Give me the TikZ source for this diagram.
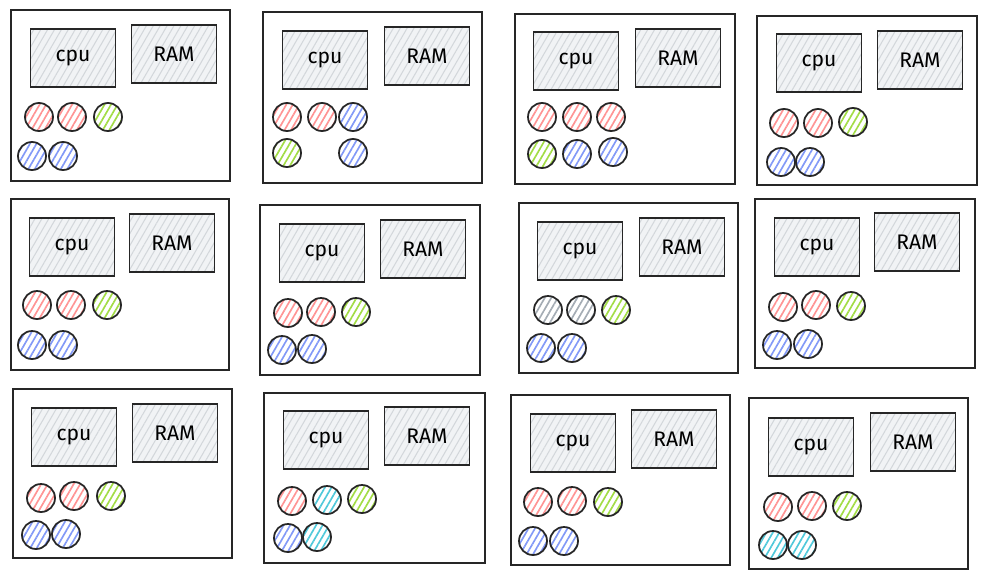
\documentclass[tikz,border=0pt]{standalone}
\usepackage{fontspec}
\setmainfont{Fira Sans}
\usetikzlibrary{patterns.meta}
\definecolor{redhach}{HTML}{FF9494}
\definecolor{bluehach}{HTML}{8299F7}
\definecolor{greenhach}{HTML}{A2DC45}
\definecolor{cyanhach}{HTML}{4FC8DA}
\definecolor{grayhach}{HTML}{A4ACB4}
\definecolor{chipfill}{HTML}{F1F3F5}
\definecolor{chiphach}{HTML}{D3D7DB}
\tikzset{>=latex}

\begin{document}
\begin{tikzpicture}[x=0.02cm, y=-0.02cm,
                    FRAME/.style = {line width=1.1pt, draw=black!85},
                    CHIP/.style = {draw=black!85, line width=1.1pt,
                              minimum width=1.7cm, minimum height=1.17cm,
                              preaction={fill=chipfill},
                              pattern={Lines[angle=60, distance=3.4pt, line width=0.6pt]},
                              pattern color=chiphach, font=\large},
                    B/.style = {draw=black!85, circle, line width=1pt,
                              minimum size=0.56cm, inner sep=0pt,
                              pattern={Lines[angle=60, distance=3.2pt, line width=0.95pt]},
                              pattern color=#1}
               ]
               \useasboundingbox (0,0) rectangle (986,578);

               % top row
               \draw[FRAME] (11,10) rectangle (230,181);
               \node[CHIP] (cpu1) at (73,58) {cpu};
               \node[CHIP] (ram1) at (174,54) {RAM};
               \foreach \x/\y/\c [count=\i] in {39/117/redhach, 72/117/redhach, 108/117/greenhach,
                              32/156/bluehach, 63/156/bluehach}
                    \node[B=\c] (p1b\i) at (\x,\y) {};

               \draw[FRAME] (263,12) rectangle (482,183);
               \node[CHIP] (cpu2) at (325,60) {cpu};
               \node[CHIP] (ram2) at (427,56) {RAM};
               \foreach \x/\y/\c [count=\i] in {287/117/redhach, 322/117/redhach, 353/117/bluehach,
                              287/153/greenhach, 353/153/bluehach}
                    \node[B=\c] (p2b\i) at (\x,\y) {};

               \draw[FRAME] (515,14) rectangle (735,184);
               \node[CHIP] (cpu3) at (576,61) {cpu};
               \node[CHIP] (ram3) at (678,58) {RAM};
               \foreach \x/\y/\c [count=\i] in {542/117/redhach, 577/117/redhach, 611/117/redhach,
                              542/154/greenhach, 577/154/bluehach, 613/152/bluehach}
                    \node[B=\c] (p3b\i) at (\x,\y) {};

               \draw[FRAME] (757,16) rectangle (977,185);
               \node[CHIP] (cpu4) at (819,63) {cpu};
               \node[CHIP] (ram4) at (920,60) {RAM};
               \foreach \x/\y/\c [count=\i] in {784/123/redhach, 818/123/redhach, 853/122/greenhach,
                              781/162/bluehach, 810/162/bluehach}
                    \node[B=\c] (p4b\i) at (\x,\y) {};

               % middle row
               \draw[FRAME] (11,199) rectangle (229,370);
               \node[CHIP] (cpu5) at (72,247) {cpu};
               \node[CHIP] (ram5) at (172,243) {RAM};
               \foreach \x/\y/\c [count=\i] in {37/305/redhach, 71/305/redhach, 107/305/greenhach,
                              32/345/bluehach, 63/345/bluehach}
                    \node[B=\c] (p5b\i) at (\x,\y) {};

               \draw[FRAME] (260,205) rectangle (480,375);
               \node[CHIP] (cpu6) at (322,253) {cpu};
               \node[CHIP] (ram6) at (423,249) {RAM};
               \foreach \x/\y/\c [count=\i] in {288/313/redhach, 321/312/redhach, 356/312/greenhach,
                              282/350/bluehach, 312/349/bluehach}
                    \node[B=\c] (p6b\i) at (\x,\y) {};

               \draw[FRAME] (519,203) rectangle (738,373);
               \node[CHIP] (cpu7) at (580,251) {cpu};
               \node[CHIP] (ram7) at (682,247) {RAM};
               \foreach \x/\y/\c [count=\i] in {548/310/grayhach, 581/310/grayhach, 616/310/greenhach,
                              541/348/bluehach, 572/348/bluehach}
                    \node[B=\c] (p7b\i) at (\x,\y) {};

               \draw[FRAME] (755,199) rectangle (975,368);
               \node[CHIP] (cpu8) at (817,247) {cpu};
               \node[CHIP] (ram8) at (917,242) {RAM};
               \foreach \x/\y/\c [count=\i] in {783/307/redhach, 816/305/redhach, 851/306/greenhach,
                              777/345/bluehach, 808/344/bluehach}
                    \node[B=\c] (p8b\i) at (\x,\y) {};

               % bottom row
               \draw[FRAME] (13,389) rectangle (232,558);
               \node[CHIP] (cpu9) at (74,437) {cpu};
               \node[CHIP] (ram9) at (175,433) {RAM};
               \foreach \x/\y/\c [count=\i] in {41/498/redhach, 74/496/redhach, 111/496/greenhach,
                              36/535/bluehach, 66/534/bluehach}
                    \node[B=\c] (p9b\i) at (\x,\y) {};

               \draw[FRAME] (264,393) rectangle (485,563);
               \node[CHIP] (cpu10) at (326,440) {cpu};
               \node[CHIP] (ram10) at (427,436) {RAM};
               \foreach \x/\y/\c [count=\i] in {292/501/redhach, 327/500/cyanhach, 362/499/greenhach,
                              288/538/bluehach, 317/537/cyanhach}
                    \node[B=\c] (p10b\i) at (\x,\y) {};

               \draw[FRAME] (511,395) rectangle (730,565);
               \node[CHIP] (cpu11) at (573,443) {cpu};
               \node[CHIP] (ram11) at (674,439) {RAM};
               \foreach \x/\y/\c [count=\i] in {538/502/redhach, 572/501/redhach, 608/502/greenhach,
                              533/541/bluehach, 564/541/bluehach}
                    \node[B=\c] (p11b\i) at (\x,\y) {};

               \draw[FRAME] (749,398) rectangle (968,569);
               \node[CHIP] (cpu12) at (811,447) {cpu};
               \node[CHIP] (ram12) at (913,442) {RAM};
               \foreach \x/\y/\c [count=\i] in {778/507/redhach, 812/506/redhach, 847/506/greenhach,
                              773/545/cyanhach, 802/545/cyanhach}
                    \node[B=\c] (p12b\i) at (\x,\y) {};

          \end{tikzpicture}
\end{document}
